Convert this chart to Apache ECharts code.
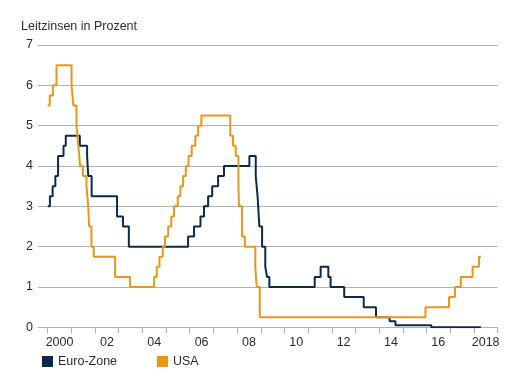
<!DOCTYPE html>
<html>
<head>
<meta charset="utf-8">
<script src="https://cdn.jsdelivr.net/npm/echarts@6/dist/echarts.min.js"></script>
<style>
html,body{margin:0;padding:0;background:#fff;}
#c{width:518px;height:385px;}
</style>
</head>
<body>
<div id="c"></div>
<script>
var years = ['2000','2001','2002','2003','2004','2005','2006','2007','2008','2009','2010','2011','2012','2013','2014','2015','2016','2017','2018'];
var yTicks = [0,1,2,3,4,5,6,7];

var euroDates = ['2000-01-01','2000-02-04','2000-03-17','2000-04-28','2000-06-09','2000-09-01','2000-10-06','2001-05-11','2001-08-31','2001-09-18','2001-11-09','2002-12-06','2003-03-07','2003-06-06','2005-12-06','2006-03-08','2006-06-15','2006-08-09','2006-10-11','2006-12-13','2007-03-14','2007-06-13','2008-07-09','2008-10-15','2008-11-12','2008-12-10','2009-01-21','2009-03-11','2009-04-08','2009-05-13','2011-04-13','2011-07-13','2011-11-09','2011-12-14','2012-07-11','2013-05-08','2013-11-13','2014-06-11','2014-09-10','2016-03-16','2018-04-20'];
var euroValues = [3.00,3.25,3.50,3.75,4.25,4.50,4.75,4.50,4.25,3.75,3.25,2.75,2.50,2.00,2.25,2.50,2.75,3.00,3.25,3.50,3.75,4.00,4.25,3.75,3.25,2.50,2.00,1.50,1.25,1.00,1.25,1.50,1.25,1.00,0.75,0.50,0.25,0.15,0.05,0.00,0.00];

var usaDates = ['2000-01-01','2000-02-02','2000-03-21','2000-05-16','2001-01-03','2001-01-31','2001-03-20','2001-04-18','2001-05-15','2001-06-27','2001-08-21','2001-09-17','2001-10-02','2001-11-06','2001-12-11','2002-11-06','2003-06-25','2004-06-30','2004-08-10','2004-09-21','2004-11-10','2004-12-14','2005-02-02','2005-03-22','2005-05-03','2005-06-30','2005-08-09','2005-09-20','2005-11-01','2005-12-13','2006-01-31','2006-03-28','2006-05-10','2006-06-29','2007-09-18','2007-10-31','2007-12-11','2008-01-22','2008-01-30','2008-03-18','2008-04-30','2008-10-08','2008-10-29','2008-12-16','2015-12-16','2016-12-14','2017-03-15','2017-06-14','2017-12-13','2018-03-21','2018-04-20'];
var usaValues = [5.50,5.75,6.00,6.50,6.00,5.50,5.00,4.50,4.00,3.75,3.50,3.00,2.50,2.00,1.75,1.25,1.00,1.25,1.50,1.75,2.00,2.25,2.50,2.75,3.00,3.25,3.50,3.75,4.00,4.25,4.50,4.75,5.00,5.25,4.75,4.50,4.25,3.50,3.00,2.25,2.00,1.50,1.00,0.25,0.50,0.75,1.00,1.25,1.50,1.75,1.75];

function pairs(d, v){ var out=[]; for(var i=0;i<d.length;i++){ out.push([d[i], v[i]]); } return out; }

var FONT = 'Liberation Sans';
var TXT = '#2b2b2b';
var GRIDC = '#aab2b9';
var NAVY = '#0b2a4a';
var ORANGE = '#e8961c';

var chart = echarts.init(document.getElementById('c'), null, {renderer:'canvas'});
chart.setOption({
  animation: false,
  backgroundColor: '#fff',
  textStyle: {fontFamily: FONT},
  title: {
    text: 'Leitzinsen in Prozent',
    left: 16, top: 15,
    textStyle: {fontFamily: FONT, fontSize: 12.5, fontWeight: 'normal', color: TXT}
  },
  legend: [
    {data: ['Euro-Zone'], left: 37, top: 350, icon: 'rect', itemWidth: 11, itemHeight: 11, itemGap: 5,
     textStyle: {fontFamily: FONT, fontSize: 12.5, color: TXT}},
    {data: ['USA'], left: 152, top: 350, icon: 'rect', itemWidth: 11, itemHeight: 11, itemGap: 5,
     textStyle: {fontFamily: FONT, fontSize: 12.5, color: TXT}}
  ],
  grid: [
    {left: 38, right: 20.5, top: 45, bottom: 57.7},
    {left: 47.7, right: 20.5, top: 45, bottom: 57.7}
  ],
  xAxis: [
    {type: 'value', gridIndex: 0, min: 0, max: 1,
     axisLine: {show: true, lineStyle: {color: GRIDC, width: 1}},
     axisTick: {show: false}, axisLabel: {show: false}, splitLine: {show: false}},
    {type: 'category', gridIndex: 1, data: years, boundaryGap: true,
     axisLine: {show: false},
     axisTick: {show: true, interval: 0, length: 6, lineStyle: {color: GRIDC}},
     axisLabel: {interval: 1, margin: 9, fontFamily: FONT, fontSize: 12.5, color: TXT,
       formatter: function(v){ return (v === '2000' || v === '2018') ? v : v.slice(2); }},
     splitLine: {show: false}},
    {type: 'time', gridIndex: 1, min: '2000-01-01', max: '2019-01-01', show: false}
  ],
  yAxis: [
    {type: 'value', gridIndex: 0, min: yTicks[0], max: yTicks[yTicks.length-1], interval: 1,
     axisLine: {show: false}, axisTick: {show: false},
     axisLabel: {margin: 5, fontFamily: FONT, fontSize: 12.5, color: TXT},
     splitLine: {show: true, lineStyle: {color: GRIDC, width: 1}}},
    {type: 'value', gridIndex: 1, min: 0, max: 7, show: false}
  ],
  series: [
    {name: 'Euro-Zone', type: 'line', xAxisIndex: 2, yAxisIndex: 1, step: 'end',
     data: pairs(euroDates, euroValues), showSymbol: false, symbol: 'none',
     color: NAVY, lineStyle: {color: NAVY, width: 2}, z: 3},
    {name: 'USA', type: 'line', xAxisIndex: 2, yAxisIndex: 1, step: 'end',
     data: pairs(usaDates, usaValues), showSymbol: false, symbol: 'none',
     color: ORANGE, lineStyle: {color: ORANGE, width: 2}, z: 4}
  ]
});
</script>
</body>
</html>
